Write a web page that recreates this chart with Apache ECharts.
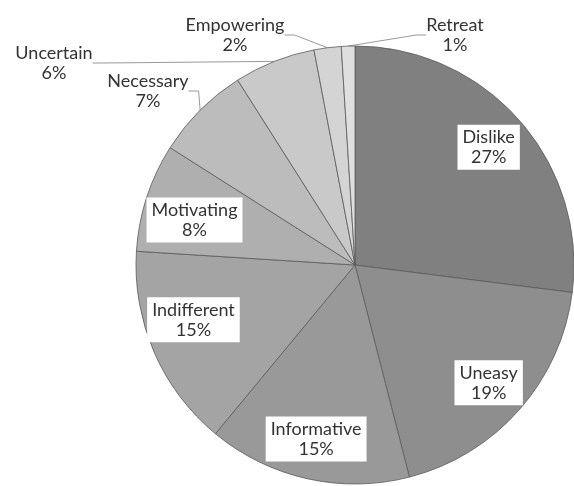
<!DOCTYPE html>
<html>
<head>
<meta charset="utf-8">
<script src="https://cdn.jsdelivr.net/npm/echarts@6/dist/echarts.min.js"></script>
<style>
  html, body { margin: 0; padding: 0; background: #fff; }
  #chart { width: 574px; height: 486px; }
</style>
</head>
<body>
<div id="chart"></div>
<script>
// slices, clockwise from 12 o'clock
const categories = ['Dislike', 'Uneasy', 'Informative', 'Indifferent', 'Motivating', 'Necessary', 'Uncertain', 'Empowering', 'Retreat'];
const shares = [27, 19, 15, 15, 8, 7, 6, 2, 1];
const sliceColors = ['#808080', '#8e8e8e', '#999999', '#a4a4a4', '#afafaf', '#bcbcbc', '#c9c9c9', '#d4d4d4', '#dfdfdf'];

// where the small slices put their callout text (text centre)
const calloutPos = {
  Necessary: [148, 91],
  Uncertain: [54, 63],
  Empowering: [235, 35],
  Retreat: [455, 35]
};
// small hand nudges for the boxed labels
const boxNudge = {
  Indifferent: [2, -16],
  Motivating: [9, 10]
};

const center = [355, 265];
const radius = 219;
const textStyle = { color: '#333', fontSize: 18, lineHeight: 20, fontFamily: 'Lato' };

const isInside = v => v >= 8;

const chart = echarts.init(document.getElementById('chart'));

chart.setOption({
  animation: false,
  color: sliceColors,
  series: [
    {
      type: 'pie',
      center: center,
      radius: radius,
      startAngle: 90,
      clockwise: true,
      percentPrecision: 0,
      itemStyle: { borderColor: '#5a5a5a', borderWidth: 0.8 },
      label: Object.assign({ formatter: '{b}\n{d}%', position: 'outside' }, textStyle),
      labelLine: { lineStyle: { color: '#999', width: 1 }, length: 10, length2: 10 },
      labelLayout: function (params) {
        const p = calloutPos[categories[params.dataIndex]];
        if (!p) return {};
        return { x: p[0], y: p[1], align: 'center', verticalAlign: 'middle' };
      },
      data: categories.map((name, i) => ({
        name: name,
        value: shares[i],
        label: { show: !isInside(shares[i]) },
        labelLine: { show: !isInside(shares[i]) }
      }))
    },
    {
      // label-only ring so the boxed labels sit at ~0.8 of the radius
      type: 'pie',
      silent: true,
      center: center,
      radius: [radius * 0.6, radius],
      startAngle: 90,
      clockwise: true,
      percentPrecision: 0,
      itemStyle: { color: 'rgba(0,0,0,0)', borderWidth: 0 },
      label: Object.assign({
        position: 'inside',
        formatter: '{b}\n{d}%',
        backgroundColor: '#fff',
        padding: [3, 5, 2, 5]
      }, textStyle),
      labelLine: { show: false },
      labelLayout: function (params) {
        const n = boxNudge[categories[params.dataIndex]];
        return n ? { dx: n[0], dy: n[1] } : {};
      },
      data: categories.map((name, i) => ({
        name: name,
        value: shares[i],
        label: { show: isInside(shares[i]) }
      }))
    }
  ]
});
</script>
</body>
</html>
